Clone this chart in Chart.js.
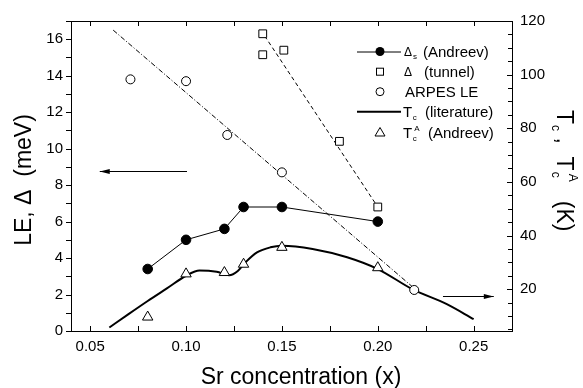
<!DOCTYPE html>
<html><head><meta charset="utf-8">
<script src="https://cdn.jsdelivr.net/npm/chart.js@4"></script>
<style>html,body{margin:0;padding:0;background:#fff}</style>
</head><body>
<canvas id="c" width="583" height="388"></canvas>
<script>
// ---- data ----
const andreevX   = [0.08, 0.10, 0.12, 0.13, 0.15, 0.20];
const andreevGap = [3.4, 5.0, 5.6, 6.8, 6.8, 6.0];          // meV (left)
const tunnelX    = [0.14, 0.14, 0.151, 0.18, 0.20];
const tunnelGap  = [16.3, 15.15, 15.4, 10.4, 6.8];           // meV (left)
const arpesX     = [0.071, 0.10, 0.1215, 0.15, 0.219];
const arpesLE    = [13.8, 13.7, 10.75, 8.7, 2.25];           // meV (left)
const tcLitX     = [0.06, 0.07, 0.08, 0.09, 0.10, 0.107, 0.116, 0.1225, 0.127, 0.131, 0.137, 0.144, 0.15, 0.166, 0.184, 0.20, 0.218, 0.236, 0.25];
const tcLitK     = [5.7, 10.7, 15.6, 20.3, 25.0, 27.0, 26.5, 25.2, 26.8, 30.0, 33.7, 35.6, 36.2, 35.0, 31.9, 27.5, 20.0, 14.4, 8.8]; // K (right)
const tcAX       = [0.08, 0.10, 0.12, 0.13, 0.15, 0.20];
const tcAK       = [9.6, 25.7, 26.2, 29.3, 35.6, 28.0];      // K (right)
const arpesFitX  = [0.062, 0.22];
const arpesFitY  = [16.5, 2.25];
const tunnelFitX = [0.139, 0.20];
const tunnelFitY = [16.5, 6.8];
const leftArrowX  = [0.1005, 0.055];  const leftArrowY  = [8.8, 8.8];   // meV
const rightArrowX = [0.234, 0.2605];  const rightArrowY = [17.5, 17.5]; // K
const xTickVals     = [0.05, 0.10, 0.15, 0.20, 0.25];
const leftTickVals  = [0, 2, 4, 6, 8, 10, 12, 14, 16];
const rightTickVals = [20, 40, 60, 80, 100, 120];

const FONT = '"Liberation Sans", Arial, Helvetica, sans-serif';
const pts = (xs, ys) => xs.map((v, i) => ({x: v, y: ys[i]}));

function txt(ctx, s, x, y, size) {
  ctx.font = size + 'px ' + FONT;
  ctx.fillText(s, x, y);
  return x + ctx.measureText(s).width;
}
function arrow(ctx, x0, y0, x1, y1) {
  ctx.beginPath(); ctx.moveTo(x0, y0); ctx.lineTo(x1, y1); ctx.stroke();
  const ang = Math.atan2(y1 - y0, x1 - x0), L = 10, W = 2.6;
  ctx.beginPath();
  ctx.moveTo(x1, y1);
  ctx.lineTo(x1 - L * Math.cos(ang) + W * Math.sin(ang), y1 - L * Math.sin(ang) - W * Math.cos(ang));
  ctx.lineTo(x1 - L * Math.cos(ang) - W * Math.sin(ang), y1 - L * Math.sin(ang) + W * Math.cos(ang));
  ctx.closePath(); ctx.fill();
}

const deco = {
  id: 'deco',
  afterDatasetsDraw(chart) {
    const {ctx, chartArea: a, scales: {x, y, y2}} = chart;
    ctx.save();
    ctx.strokeStyle = '#000'; ctx.fillStyle = '#000'; ctx.lineWidth = 1;
    const L = Math.round(a.left), R = Math.round(a.right), T = Math.round(a.top), B = Math.round(a.bottom);
    ctx.strokeRect(L + 0.5, T + 0.5, R - L, B - T);
    ctx.beginPath();
    for (let v = 0.05; v <= 0.2501; v += 0.025) {
      const px = Math.round(x.getPixelForValue(v)) + 0.5;
      ctx.moveTo(px, B); ctx.lineTo(px, B - 5);
      ctx.moveTo(px, T); ctx.lineTo(px, T + 5);
    }
    for (let v = 0; v <= 17; v += 1) {
      const py = Math.round(y.getPixelForValue(v)) + 0.5;
      ctx.moveTo(L - 5, py); ctx.lineTo(L, py);
    }
    for (let v = 5; v <= 120; v += 5) {
      const py = Math.round(y2.getPixelForValue(v)) + 0.5;
      ctx.moveTo(R, py); ctx.lineTo(R - (v % 20 === 0 ? 5 : 4), py);
    }
    ctx.stroke();
    // arrows
    arrow(ctx, x.getPixelForValue(leftArrowX[0]), Math.round(y.getPixelForValue(leftArrowY[0])) + 0.5,
               x.getPixelForValue(leftArrowX[1]), Math.round(y.getPixelForValue(leftArrowY[1])) + 0.5);
    arrow(ctx, x.getPixelForValue(rightArrowX[0]), Math.round(y2.getPixelForValue(rightArrowY[0])) + 0.5,
               x.getPixelForValue(rightArrowX[1]), Math.round(y2.getPixelForValue(rightArrowY[1])) + 0.5);
    // legend
    ctx.textBaseline = 'alphabetic';
    const sx = 380, lx0 = 357, lx1 = 401, tx = 403;
    const rows = [51.5, 71.7, 91.7, 111.7, 132.5];
    // row 1
    ctx.beginPath(); ctx.moveTo(lx0, rows[0] + 0.5); ctx.lineTo(lx1, rows[0] + 0.5); ctx.stroke();
    ctx.beginPath(); ctx.arc(sx, rows[0], 4.5, 0, 2 * Math.PI); ctx.fill();
    let xx = txt(ctx, '\u0394', tx + 1, rows[0] + 4.5, 12);
    txt(ctx, 's', xx + 1, rows[0] + 7.5, 8);
    txt(ctx, '(Andreev)', 423, rows[0] + 5.5, 15);
    // row 2
    ctx.strokeRect(sx - 3.5, rows[1] - 3.5, 7, 7);
    txt(ctx, '\u0394', tx + 1, rows[1] + 4.5, 12);
    txt(ctx, '(tunnel)', 424, rows[1] + 5.5, 15);
    // row 3
    ctx.beginPath(); ctx.arc(sx, rows[2], 4, 0, 2 * Math.PI); ctx.stroke();
    txt(ctx, 'ARPES LE', 405, rows[2] + 5.5, 15);
    // row 4
    ctx.lineWidth = 2;
    ctx.beginPath(); ctx.moveTo(lx0, rows[3]); ctx.lineTo(lx1, rows[3]); ctx.stroke();
    ctx.lineWidth = 1;
    xx = txt(ctx, 'T', tx, rows[3] + 5.5, 15);
    txt(ctx, 'c', xx + 0.5, rows[3] + 8.5, 8);
    txt(ctx, '(literature)', 425, rows[3] + 5.5, 15);
    // row 5
    ctx.beginPath();
    ctx.moveTo(sx, rows[4] - 5); ctx.lineTo(sx + 5, rows[4] + 3.5); ctx.lineTo(sx - 5, rows[4] + 3.5); ctx.closePath(); ctx.stroke();
    xx = txt(ctx, 'T', tx, rows[4] + 5.5, 15);
    txt(ctx, 'c', xx + 0.5, rows[4] + 8.5, 8);
    txt(ctx, 'A', xx + 2, rows[4] - 2, 8);
    txt(ctx, '(Andreev)', 428, rows[4] + 5.5, 15);
    ctx.restore();
  },
  afterDraw(chart) {
    const {ctx} = chart;
    ctx.save();
    ctx.fillStyle = '#000';
    // bottom title
    ctx.textAlign = 'center'; ctx.textBaseline = 'alphabetic';
    ctx.font = '23px ' + FONT;
    ctx.fillText('Sr concentration (x)', 301, 384);
    // left title
    ctx.save();
    ctx.translate(31, 180); ctx.rotate(-Math.PI / 2);
    ctx.fillText('LE, \u0394  (meV)', 0, 0);
    ctx.restore();
    // right title
    ctx.save();
    ctx.translate(557, 110); ctx.rotate(Math.PI / 2);
    ctx.textAlign = 'left';
    let p = txt(ctx, 'T', 0, 0, 23);
    p = txt(ctx, 'c', p + 1, 5, 12);
    p = txt(ctx, ' ,  ', p, 0, 23);
    p = txt(ctx, 'T', p, 0, 23);
    txt(ctx, 'c', p + 1, 5, 12);
    p = txt(ctx, 'A', p + 3, -12, 12);
    txt(ctx, '   (K)', p, 0, 23);
    ctx.restore();
    ctx.restore();
  }
};

const tickFont = {family: FONT, size: 15};
new Chart(document.getElementById('c'), {
  type: 'scatter',
  data: {
    datasets: [
      {label: 'Tc^A (Andreev)', data: pts(tcAX, tcAK), yAxisID: 'y2', pointStyle: 'triangle', pointRadius: 6,
       backgroundColor: '#fff', borderColor: '#000', borderWidth: 1, showLine: false, order: 1},
      {label: 'ARPES LE', data: pts(arpesX, arpesLE), yAxisID: 'y', pointStyle: 'circle', pointRadius: 4.5,
       backgroundColor: '#fff', borderColor: '#000', borderWidth: 1, showLine: false, order: 1},
      {label: 'Delta (tunnel)', data: pts(tunnelX, tunnelGap), yAxisID: 'y', pointStyle: 'rect', pointRadius: 5.5,
       backgroundColor: '#fff', borderColor: '#000', borderWidth: 1, showLine: false, order: 1},
      {label: 'Delta_s (Andreev)', data: pts(andreevX, andreevGap), yAxisID: 'y', pointStyle: 'circle', pointRadius: 4.8,
       backgroundColor: '#000', borderColor: '#000', borderWidth: 1, showLine: true, order: 2},
      {label: 'Tc (literature)', data: pts(tcLitX, tcLitK), yAxisID: 'y2', pointRadius: 0, showLine: true,
       borderColor: '#000', borderWidth: 2, cubicInterpolationMode: 'monotone', order: 3},
      {label: 'ARPES fit', data: pts(arpesFitX, arpesFitY), yAxisID: 'y', pointRadius: 0, showLine: true,
       borderColor: '#000', borderWidth: 1, borderDash: [5, 2, 1, 2], order: 4},
      {label: 'tunnel fit', data: pts(tunnelFitX, tunnelFitY), yAxisID: 'y', pointRadius: 0, showLine: true,
       borderColor: '#000', borderWidth: 1, borderDash: [4, 3], order: 4}
    ]
  },
  options: {
    responsive: false, animation: false, devicePixelRatio: 1,
    layout: {padding: {top: 21, left: 0, right: 0, bottom: 0}},
    plugins: {legend: {display: false}, tooltip: {enabled: false}},
    scales: {
      x: {type: 'linear', position: 'bottom', min: 0.04, max: 0.27,
          afterBuildTicks: s => { s.ticks = xTickVals.map(v => ({value: v})); },
          afterFit: s => { s.height = 57; },
          grid: {display: false, drawTicks: false}, border: {display: false},
          ticks: {font: tickFont, color: '#000', padding: 7, maxRotation: 0, autoSkip: false,
                  callback: v => v.toFixed(2)}},
      y: {type: 'linear', position: 'left', min: 0, max: 17,
          afterBuildTicks: s => { s.ticks = leftTickVals.map(v => ({value: v})); },
          afterFit: s => { s.width = 71; },
          grid: {display: false, drawTicks: false}, border: {display: false},
          ticks: {font: tickFont, color: '#000', padding: 8, autoSkip: false}},
      y2: {type: 'linear', position: 'right', min: 4.4, max: 120,
          afterBuildTicks: s => { s.ticks = rightTickVals.map(v => ({value: v})); },
          afterFit: s => { s.width = 71; },
          grid: {display: false, drawTicks: false}, border: {display: false},
          ticks: {font: tickFont, color: '#000', padding: 8, autoSkip: false}}
    }
  },
  plugins: [deco]
});
</script>
</body></html>
